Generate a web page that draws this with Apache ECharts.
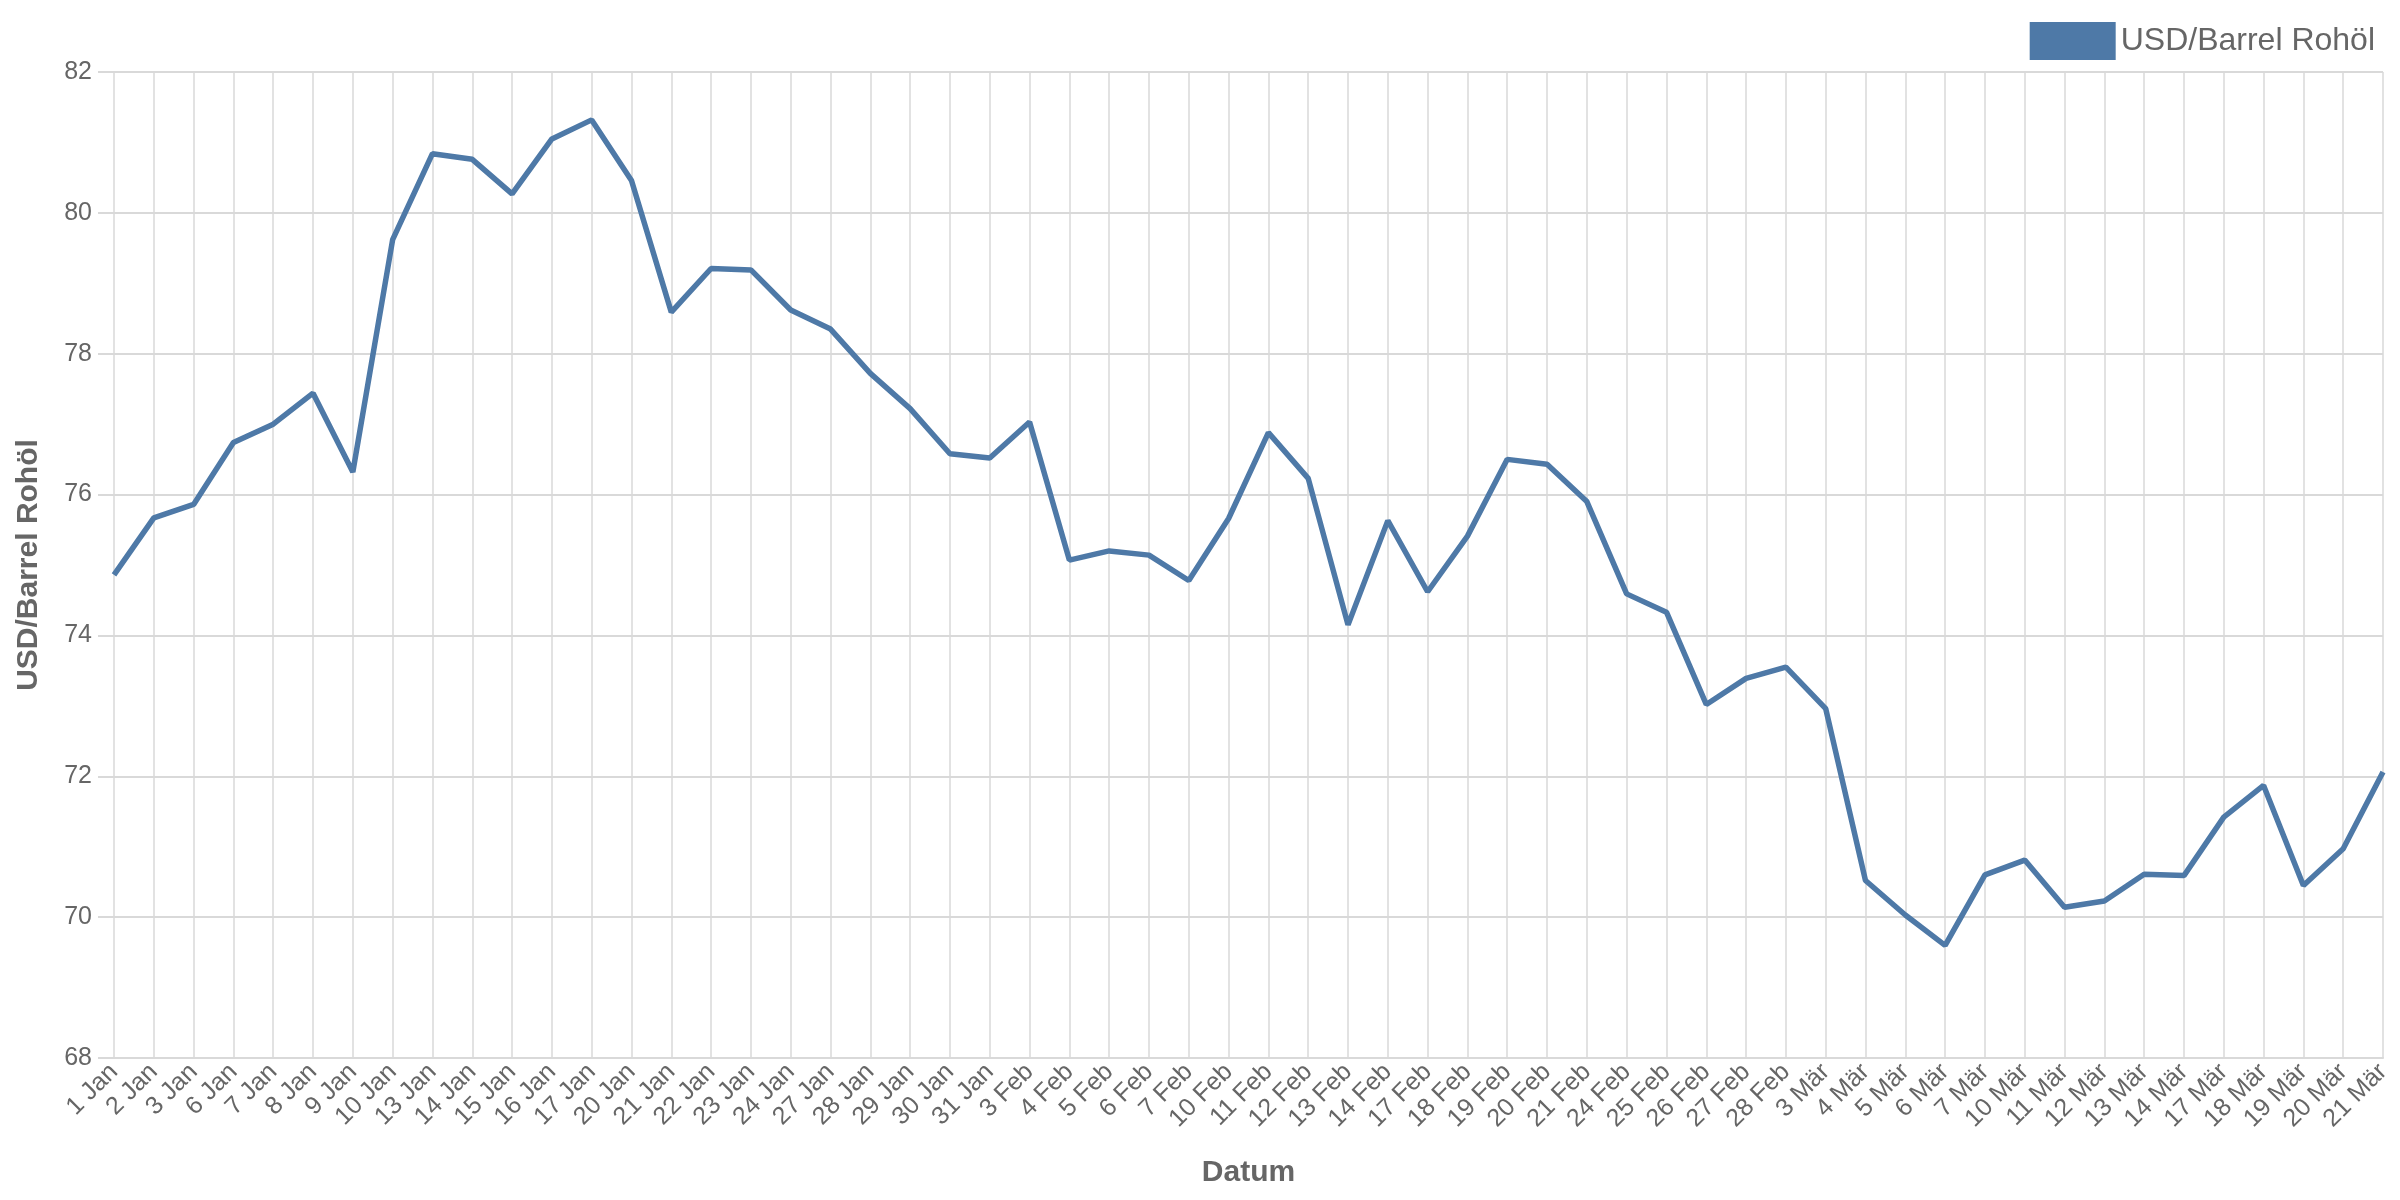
<!DOCTYPE html>
<html>
<head>
<meta charset="utf-8">
<script src="https://cdn.jsdelivr.net/npm/echarts@6/dist/echarts.min.js"></script>
<style>
html,body{margin:0;padding:0;background:#fff;}
#chart{width:2400px;height:1200px;}
</style>
</head>
<body>
<div id="chart"></div>
<script>
const categories = ["1 Jan","2 Jan","3 Jan","6 Jan","7 Jan","8 Jan","9 Jan","10 Jan","13 Jan","14 Jan","15 Jan","16 Jan","17 Jan","20 Jan","21 Jan","22 Jan","23 Jan","24 Jan","27 Jan","28 Jan","29 Jan","30 Jan","31 Jan","3 Feb","4 Feb","5 Feb","6 Feb","7 Feb","10 Feb","11 Feb","12 Feb","13 Feb","14 Feb","17 Feb","18 Feb","19 Feb","20 Feb","21 Feb","24 Feb","25 Feb","26 Feb","27 Feb","28 Feb","3 Mär","4 Mär","5 Mär","6 Mär","7 Mär","10 Mär","11 Mär","12 Mär","13 Mär","14 Mär","17 Mär","18 Mär","19 Mär","20 Mär","21 Mär"];
const seriesName = "USD/Barrel Rohöl";
const values = [74.86,75.67,75.86,76.74,77.0,77.44,76.32,79.62,80.84,80.76,80.27,81.05,81.32,80.46,78.59,79.21,79.19,78.62,78.35,77.72,77.22,76.58,76.52,77.03,75.07,75.2,75.14,74.78,75.66,76.88,76.23,74.15,75.63,74.62,75.41,76.5,76.43,75.9,74.59,74.33,73.02,73.39,73.55,72.96,70.52,70.03,69.6,70.6,70.81,70.14,70.23,70.61,70.59,71.42,71.87,70.45,70.97,72.06];
const yTicks = {min: 68, max: 82, interval: 2};

const font = "'Liberation Sans', Arial, sans-serif";
const chart = echarts.init(document.getElementById('chart'));
chart.setOption({
  backgroundColor: '#fff',
  animation: false,
  textStyle: {fontFamily: font},
  legend: {
    show: true,
    right: 20, top: 17,
    itemWidth: 86, itemHeight: 38, itemGap: 14,
    icon: 'rect',
    textStyle: {fontSize: 32, color: '#666', fontFamily: font},
    data: [{name: seriesName, icon: 'rect'}]
  },
  grid: {left: 114, right: 17, top: 72, bottom: 142, containLabel: false},
  xAxis: {
    type: 'category',
    data: categories,
    boundaryGap: false,
    name: 'Datum',
    nameLocation: 'middle',
    nameGap: 100,
    nameTextStyle: {fontSize: 30, fontWeight: 'bold', color: '#666'},
    axisLine: {show: true, lineStyle: {color: '#d9d9d9', width: 2}},
    axisTick: {show: false},
    axisLabel: {rotate: 45, fontSize: 25, color: '#666', margin: 10, interval: 0},
    splitLine: {show: true, lineStyle: {color: '#d9d9d9', width: 1.5}}
  },
  yAxis: {
    type: 'value',
    min: yTicks.min, max: yTicks.max, interval: yTicks.interval,
    name: seriesName,
    nameLocation: 'middle',
    nameGap: 70,
    nameRotate: 90,
    nameTextStyle: {fontSize: 30, fontWeight: 'bold', color: '#666'},
    axisLine: {show: false},
    axisTick: {show: true, length: 16, lineStyle: {color: '#d9d9d9', width: 2}},
    axisLabel: {fontSize: 25, color: '#666', margin: 22},
    splitLine: {show: true, lineStyle: {color: '#d9d9d9', width: 2}}
  },
  series: [{
    name: seriesName,
    type: 'line',
    data: values,
    symbol: 'none',
    color: '#4e79a7',
    lineStyle: {color: '#4e79a7', width: 5.5}
  }]
});
</script>
</body>
</html>
